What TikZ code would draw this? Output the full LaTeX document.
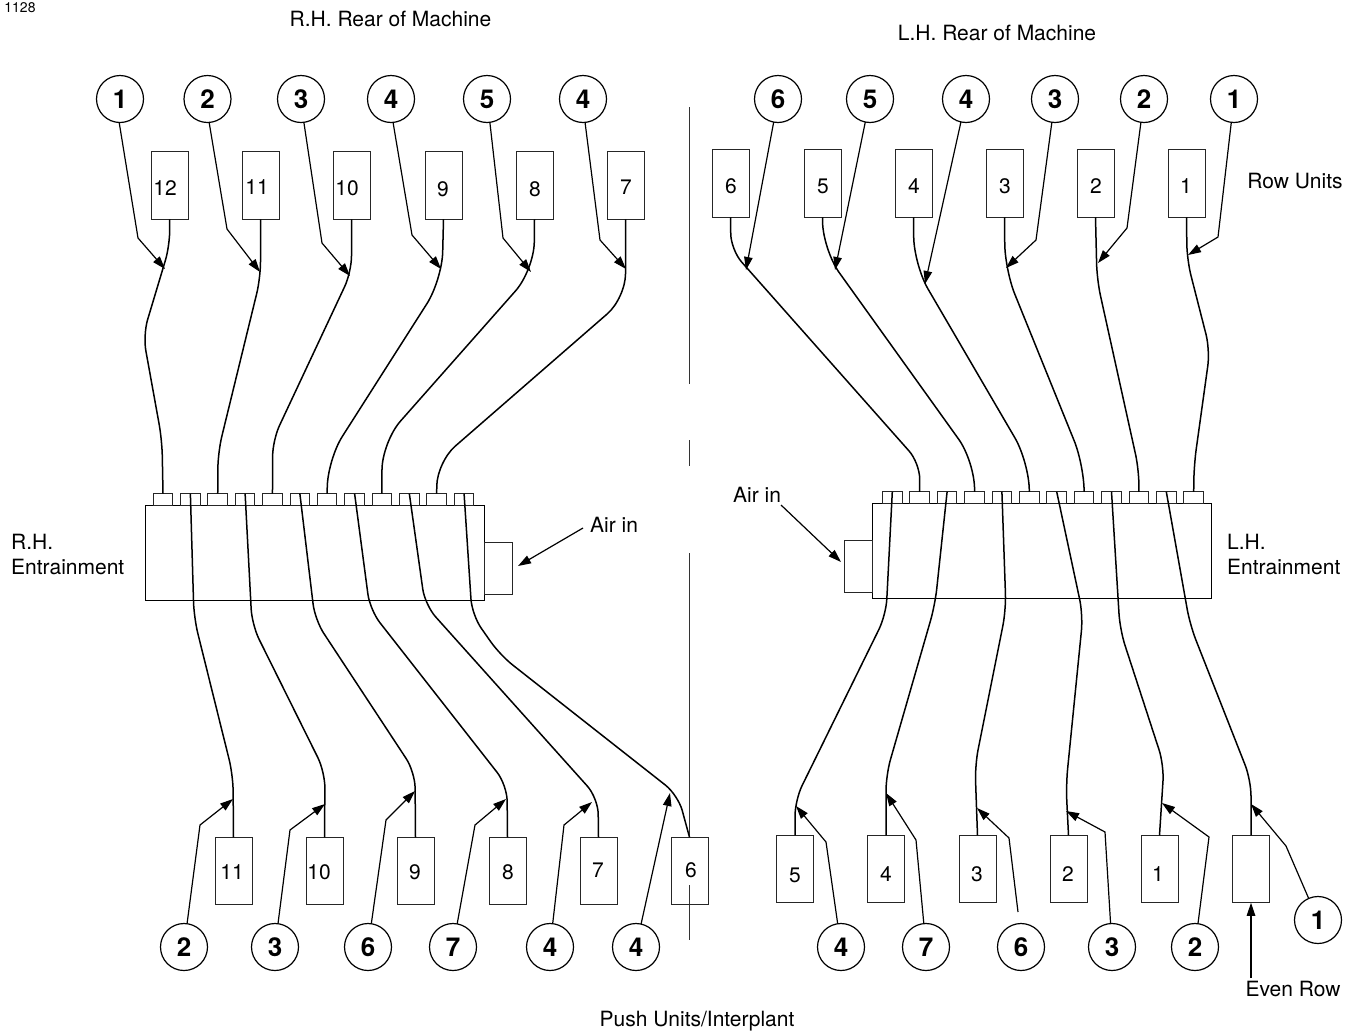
\documentclass[tikz,border=0pt]{standalone}
\usepackage{fontspec}
\setmainfont{TeX Gyre Heros}
\usetikzlibrary{arrows.meta}
\tikzset{
  ubox/.style={draw=black!85,line width=1pt,minimum width=37pt,minimum height=67.5pt,inner sep=0pt,outer sep=0pt},
  portbox/.style={draw=black!85,line width=1pt,minimum width=19.5pt,minimum height=11.5pt,inner sep=0pt,outer sep=0pt},
  entr/.style={draw=black,line width=1pt,minimum width=339pt,minimum height=95pt,inner sep=0pt,outer sep=0pt},
  airbox/.style={draw=black!85,line width=1pt,minimum width=27.5pt,minimum height=52pt,inner sep=0pt,outer sep=0pt},
  numc/.style={draw=black,circle,line width=1.2pt,minimum size=47pt,inner sep=0pt,outer sep=0pt,font=\fontsize{26}{26}\selectfont\bfseries},
  ulabel/.style={inner sep=0pt,font=\fontsize{21}{21}\selectfont},
  txt/.style={inner sep=0pt,font=\fontsize{21}{25}\selectfont,align=left},
  tube/.style={line width=1.5pt,rounded corners=16pt,black},
  lead/.style={line width=1.2pt,black,-{Triangle[length=13pt,width=8.5pt]}},
  cline/.style={line width=1pt,black!80},
}
\newcommand\leadb[3]{\coordinate (k#1) at (#3); \draw[lead] (#1) -- (#2) -- (k#1);}
\newcommand\leadx[4]{\coordinate (k#1) at (#4); \draw[lead] (#1.#2) -- (#3) -- (k#1);}
\newcommand\leads[2]{\coordinate (k#1) at (#2); \draw[lead] (#1) -- (k#1);}
\begin{document}
\begin{tikzpicture}[x=1pt,y=-1pt]
\useasboundingbox[fill=white] (0,0) rectangle (1354,1034);
% texts
\node[txt,font=\fontsize{14}{14}\selectfont] (tid) at (20,8) {1128};
\node[txt] (trl) at (390.5,19) {R.H. Rear of Machine};
\node[txt] (trr) at (997,33) {L.H. Rear of Machine};
\node[txt] (tru) at (1295,181) {Row Units};
\node[txt,anchor=west] (tre) at (11,554) {R.H.\\Entrainment};
\node[txt,anchor=west] (tle) at (1227,554) {L.H.\\Entrainment};
\node[txt] (tai) at (614,525) {Air in};
\node[txt] (tal) at (757,495) {Air in};
\node[txt] (tev) at (1293,989) {Even Row};
\node[txt] (tpu) at (697,1021) {Push Units/Interplant};
% centre line
\foreach \n/\a/\b in {1/107/384,2/440/466,3/553/837,4/885/940}{
  \coordinate (ca\n) at (689.5,\a); \coordinate (cb\n) at (689.5,\b);
  \draw[cline] (ca\n) -- (cb\n);
}
% entrainment bodies
\node[entr] (EL) at (315,552.7) {};
\node[entr] (ER) at (1041.8,550.7) {};
\node[airbox] (AL) at (498.3,568) {};
\node[airbox] (AR) at (858.5,566) {};
% ports
\foreach \i in {1,...,12}{
  \node[portbox] (L\i) at ({163+27.37*(\i-1)},499.3) {};
  \node[portbox] (R\i) at ({892.3+27.4*(\i-1)},497.5) {};
}
% units
\foreach \n/\x/\y/\lx/\ly/\t in {
 u12/169.5/185.5/165/188/12,u11/260.5/185.5/257/187/11,u10/351.5/185.5/347/188/10,
 u9/443.5/185.5/443/189/9,u8/534.5/185.5/535/189/8,u7/625.5/185.5/626/187/7,
 v6/730.5/183.5/731/186/6,v5/822.5/183.5/823/186/5,v4/913.5/183.5/914/186/4,
 v3/1004.5/183.5/1005/186/3,v2/1095.5/183.5/1096/186/2,v1/1186.5/183.5/1186/186/1,
 b11/233.5/871/232/872/11,b10/324.5/871/319/872/10,b9/415.5/871/415/872/9,
 b8/507.5/871/508/872/8,b7/598.5/871/598/870/7,b6/689.5/871/691/870/6,
 d5/795/869/795/875/5,d4/886/869/886/874/4,d3/977.5/869/977/874/3,
 d2/1068.5/869/1068/874/2,d1/1159.5/869/1158/874/1}{
  \node[ubox] (\n) at (\x,\y) {};
  \node[ulabel] (l\n) at (\lx,\ly) {\t};
}
\node[ubox] (d0) at (1251,869) {};
% circles
\foreach \n/\x/\y/\t in {
 A1/120/99/1,A2/207.5/99/2,A3/301/99/3,A4/391/99/4,A5/487/99/5,A6/583/99/4,
 B1/778/99/6,B2/870/99/5,B3/966/99/4,B4/1055/99/3,B5/1144/99/2,B6/1234/99/1,
 C1/184/947/2,C2/275/947/3,C3/368/947/6,C4/453/947/7,C5/550/947/4,C6/636/947/4,
 D1/841/947/4,D2/926/947/7,D3/1021/947/6,D4/1112/947/3,D5/1195/947/2,D6/1318/920/1}{
  \node[numc] (\n) at (\x,\y) {\t};
}
% tubes top left
\draw[tube] (u12.south) -- (170,245) -- (143,335) -- (162,440) -- (L1.north);
\draw[tube] (u11.south) -- (260.5,278) -- (218,452) -- (L3.north);
\draw[tube] (u10.south) -- (351.5,272) -- (272.7,440) -- (L5.north);
\draw[tube,rounded corners=28pt] (u9.south) -- (442,280) -- (327.3,460) -- (L7.north);
\draw[tube,rounded corners=28pt] (u8.south) -- (534,270) -- (382,442) -- (L9.north);
\draw[tube,rounded corners=24pt] (u7.south) -- (625.5,298) -- (437,462) -- (L11.north);
% tubes top right
\draw[tube] (v6.south) -- (731,250) -- (919.7,463) -- (R2.north);
\draw[tube,rounded corners=28pt] (v5.south) -- (823,250) -- (975,462) -- (R4.north);
\draw[tube,rounded corners=28pt] (v4.south) -- (914,265) -- (1029,462) -- (R6.north);
\draw[tube,rounded corners=26pt] (v3.south) -- (1005,270) -- (1084,465) -- (R8.north);
\draw[tube] (v2.south) -- (1097,280) -- (1139,470) -- (R10.north);
\draw[tube] (v1.south) -- (1187,260) -- (1210,350) -- (1194,465) -- (R12.north);
% tubes bottom left
\draw[tube] (L2.north) -- (194,618) -- (233,775) -- (b11.north);
\draw[tube] (L4.north) -- (252,625) -- (325,772) -- (b10.north);
\draw[tube] (L6.north) -- (315,620) -- (415,772) -- (b9.north);
\draw[tube] (L8.north) -- (370,610) -- (507,785) -- (b8.north);
\draw[tube] (L10.north) -- (425,605) -- (598,798) -- (b7.north);
\draw[tube] (L12.north) -- (472,615) -- (500,655) -- (678,795) -- (b6.north);
% tubes bottom right
\draw[tube] (R1.north) -- (886,615) -- (795,800) -- (d5.north);
\draw[tube] (R3.north) -- (935,605) -- (886,775) -- (d4.north);
\draw[tube] (R5.north) -- (1006,610) -- (975,765) -- (d3.north);
\draw[tube] (R7.north) -- (1083,615) -- (1066,785) -- (d2.north);
\draw[tube] (R9.north) -- (1120,630) -- (1164,765) -- (d1.north);
\draw[tube] (R11.north) -- (1190,625) -- (1251,780) -- (d0.north);
% leaders
\leadx{A1}{-92}{138,238}{165,269}
\leadx{A2}{-86}{227,229}{260,272}
\leadx{A3}{-83}{322,243}{350,276}
\leadx{A4}{-85}{412,235}{441,269}
\leadx{A5}{-83}{503,238}{531,272}
\leadx{A6}{-85}{600,240}{626,269}
\leads{B1}{746,270}
\leads{B2}{835,270}
\leads{B3}{925,284}
\leadb{B4}{1036,240}{1006,268}
\leadb{B5}{1127,228}{1098,263}
\leadb{B6}{1218,237}{1188,255}
\leadb{C1}{200,825}{233,799}
\leadb{C2}{290,830}{325,804}
\leadb{C3}{386,820}{415,791}
\leadb{C4}{475,825}{506,799}
\leadb{C5}{564,825}{592,802}
\leads{C6}{670,793}
\leadb{D1}{826,842}{796,806}
\leadb{D2}{916,840}{886,793}
\coordinate (fd3) at (1018,912);
\coordinate (kD3) at (977,808);
\draw[lead] (fd3) -- (1009,838) -- (kD3);
\leadb{D4}{1105,832}{1066,811}
\leadb{D5}{1209,837}{1162,803}
\leadb{D6}{1286,846}{1251,804}
% other arrows
\coordinate (fa1) at (583,528); \coordinate (ka1) at (518,566);
\draw[lead] (fa1) -- (ka1);
\coordinate (fa2) at (781,505); \coordinate (ka2) at (841,562);
\draw[lead] (fa2) -- (ka2);
\coordinate (fe) at (1251,978);
\draw[lead] (fe) -- (d0.south);
\end{tikzpicture}
\end{document}
